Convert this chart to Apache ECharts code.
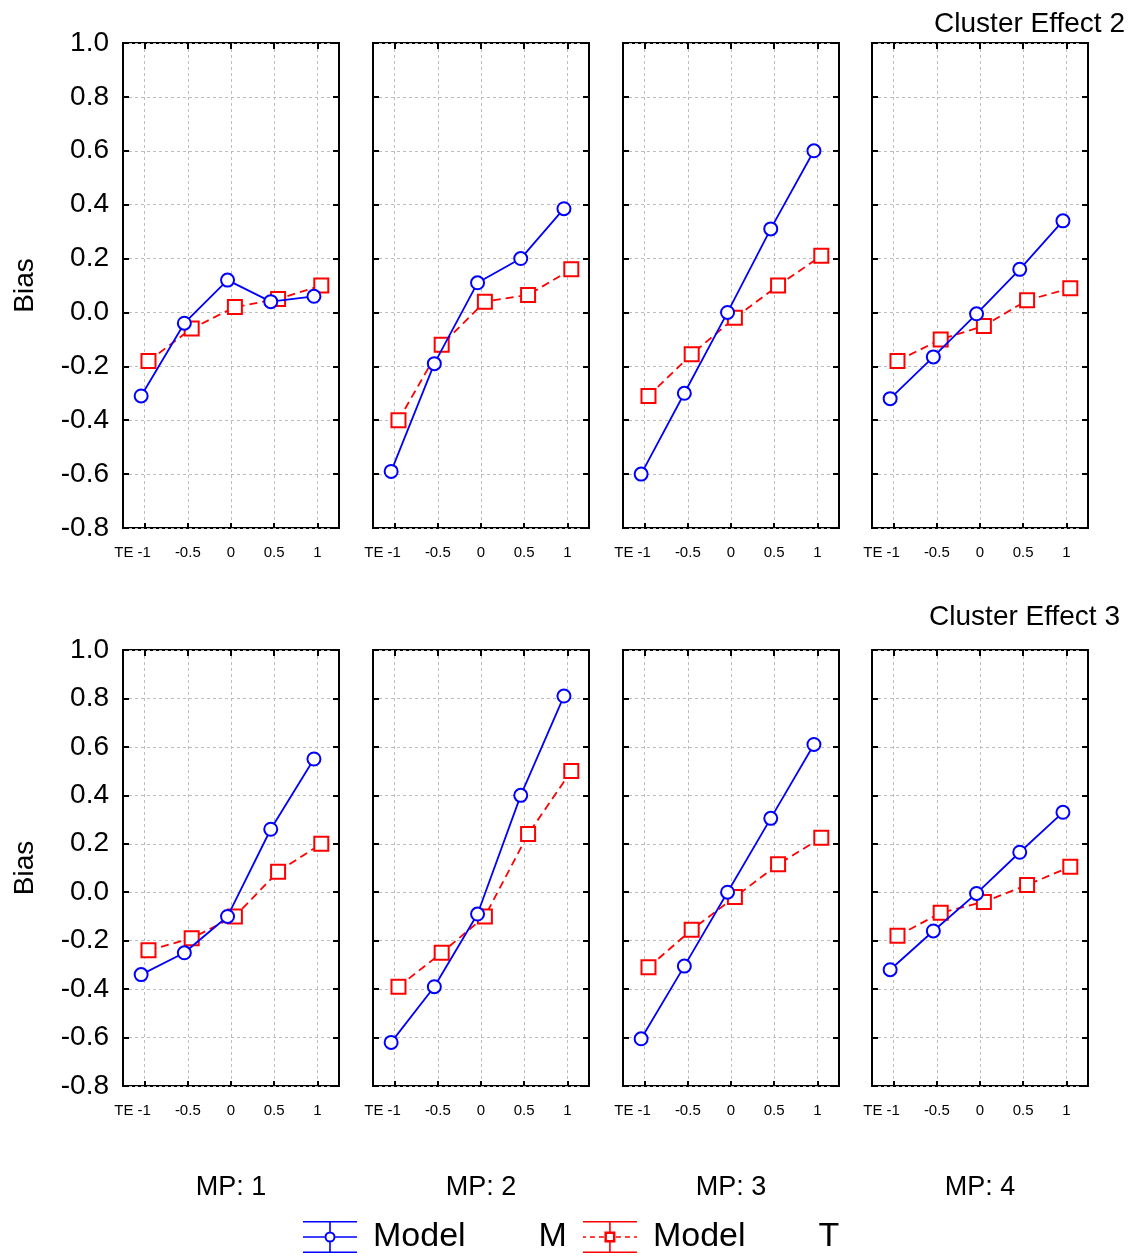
<!DOCTYPE html>
<html>

<head>
    <meta charset="utf-8">
    <title></title>
    <style>
        body { margin: 0; background: #fff; }
    </style>
</head>

<body>
    <div id="main" style="width: 1139px;height:1256px;"></div>
    <script src="https://cdn.jsdelivr.net/npm/echarts@6/dist/echarts.min.js" charset="utf-8"></script>
    <script>
    // x levels and labels
    var teLevels = [-1, -0.5, 0, 0.5, 1];
    var mpLabels = ['MP: 1', 'MP: 2', 'MP: 3', 'MP: 4'];
    var clusterTitles = ['Cluster Effect 2', 'Cluster Effect 3'];

    // Cluster Effect 2, one row per MP
    var ce2ModelM = [
        [-0.31, -0.04, 0.12, 0.04, 0.06],
        [-0.59, -0.19, 0.11, 0.20, 0.385],
        [-0.60, -0.30, 0.00, 0.31, 0.60],
        [-0.32, -0.165, -0.005, 0.16, 0.34]
    ];
    var ce2ModelT = [
        [-0.18, -0.06, 0.02, 0.05, 0.10],
        [-0.40, -0.12, 0.04, 0.065, 0.16],
        [-0.31, -0.155, -0.02, 0.10, 0.21],
        [-0.18, -0.10, -0.05, 0.045, 0.09]
    ];
    // Cluster Effect 3
    var ce3ModelM = [
        [-0.34, -0.25, -0.10, 0.26, 0.55],
        [-0.62, -0.39, -0.09, 0.40, 0.81],
        [-0.605, -0.305, 0.00, 0.305, 0.61],
        [-0.32, -0.16, -0.005, 0.165, 0.33]
    ];
    var ce3ModelT = [
        [-0.24, -0.19, -0.10, 0.085, 0.20],
        [-0.39, -0.25, -0.10, 0.24, 0.50],
        [-0.31, -0.155, -0.02, 0.115, 0.225],
        [-0.18, -0.085, -0.04, 0.03, 0.105]
    ];

    var FONT = 'Liberation Sans, Arial, sans-serif';
    var BLUE = '#0000ff';
    var RED = '#ff0000';
    var offM = -0.04, offT = 0.045;   // small horizontal jitter as in the original

    var rows = [
        { top: 43, height: 485, m: ce2ModelM, t: ce2ModelT },
        { top: 650, height: 436, m: ce3ModelM, t: ce3ModelT }
    ];
    var colLefts = [123, 373, 623, 872];
    var colWidth = 216;

    var grids = [], xAxes = [], yAxes = [], series = [], graphics = [];

    var tickStyle = { color: '#000', width: 2 };
    var gridLine = { color: '#bdbdbd', type: [3, 3], width: 1 };

    function yFmt(v) {
        var r = Math.round(v * 10) / 10;
        if (r === 0) r = 0;
        return r.toFixed(1);
    }

    rows.forEach(function(row, r) {
        colLefts.forEach(function(left, c) {
            var g = grids.length;
            grids.push({
                left: left, top: row.top, width: colWidth, height: row.height,
                show: true, borderColor: '#000', borderWidth: 2, backgroundColor: 'transparent'
            });
            xAxes.push({
                type: 'value', gridIndex: g, position: 'bottom', min: -1.25, max: 1.25,
                axisLine: { show: false, onZero: false },
                axisTick: { show: true, inside: true, length: 5, customValues: teLevels, lineStyle: tickStyle },
                splitLine: { show: true, lineStyle: gridLine },
                axisLabel: {
                    customValues: teLevels, margin: 17, color: '#000', fontSize: 15, fontFamily: FONT,
                    formatter: function(v) { return v === -1 ? '{te|TE -1}' : String(v); },
                    rich: { te: { fontSize: 15, fontFamily: FONT, color: '#000', padding: [0, 24, 0, 0] } }
                }
            });
            xAxes.push({
                type: 'value', gridIndex: g, position: 'top', min: -1.25, max: 1.25,
                axisLine: { show: false, onZero: false },
                axisTick: { show: true, inside: true, length: 6, customValues: teLevels, lineStyle: tickStyle },
                axisLabel: { show: false },
                splitLine: { show: false }
            });
            yAxes.push({
                type: 'value', gridIndex: g, position: 'left', min: -0.8, max: 1.0, interval: 0.2,
                name: c === 0 ? 'Bias' : '', nameLocation: 'middle', nameGap: 84,
                nameTextStyle: { fontSize: 28, fontFamily: FONT, color: '#000' },
                axisLine: { show: false, onZero: false },
                axisTick: { show: true, inside: true, length: 6, lineStyle: tickStyle },
                splitLine: { show: true, lineStyle: gridLine },
                axisLabel: { show: c === 0, margin: 14, color: '#000', fontSize: 28, fontFamily: FONT,
                    formatter: yFmt }
            });
            yAxes.push({
                type: 'value', gridIndex: g, position: 'right', min: -0.8, max: 1.0, interval: 0.2,
                axisLine: { show: false, onZero: false },
                axisTick: { show: true, inside: true, length: 6, lineStyle: tickStyle },
                splitLine: { show: false },
                axisLabel: { show: false }
            });

            series.push({
                name: 'Model M', type: 'line', xAxisIndex: 2 * g, yAxisIndex: 2 * g,
                data: teLevels.map(function(x, i) { return [x + offM, row.m[c][i]]; }),
                symbol: 'emptyCircle', symbolSize: 13,
                itemStyle: { color: BLUE, borderWidth: 1.2 },
                lineStyle: { color: BLUE, width: 1.8 },
                animation: false, z: 3
            });
            series.push({
                name: 'Model T', type: 'line', xAxisIndex: 2 * g, yAxisIndex: 2 * g,
                data: teLevels.map(function(x, i) { return [x + offT, row.t[c][i]]; }),
                symbol: 'emptyRect', symbolSize: 14,
                itemStyle: { color: RED, borderWidth: 1.2 },
                lineStyle: { color: RED, width: 1.8, type: [8, 5] },
                animation: false, z: 2
            });
        });
    });

    colLefts.forEach(function(left, c) {
        graphics.push({
            type: 'text', x: left + colWidth / 2, y: 1188,
            style: { text: mpLabels[c], fontSize: 27, fontFamily: FONT, fill: '#000',
                textAlign: 'center', textVerticalAlign: 'middle' }
        });
    });

    // legend icons: error-bar style marker, drawn as filled path shapes
    var iconM = 'path://M0 0h54v1.6h-54Z M0 30.4h54v1.6h-54Z M26.2 0h1.6v10.5h-1.6Z M26.2 21.5h1.6v10.5h-1.6Z ' +
        'M0 15.2h21.5v1.6h-21.5Z M32.5 15.2h21.5v1.6h-21.5Z ' +
        'M21.5 16A5.5 5.5 0 1 1 32.5 16A5.5 5.5 0 1 1 21.5 16Z M23.5 16A3.5 3.5 0 1 0 30.5 16A3.5 3.5 0 1 0 23.5 16Z';
    var iconT = 'path://M0 0h54v1.6h-54Z M0 30.4h54v1.6h-54Z M26.2 0h1.6v10.5h-1.6Z M26.2 21.5h1.6v10.5h-1.6Z ' +
        'M0 15.3h3v1.4h-3Z M7 15.3h5v1.4h-5Z M16 15.3h5v1.4h-5Z M33 15.3h5v1.4h-5Z M42 15.3h5v1.4h-5Z M51 15.3h3v1.4h-3Z ' +
        'M21.5 10.5h11v11h-11Z M24 13V19H30V13Z';

    var myChart = echarts.init(document.getElementById('main'));
    var option = {
        backgroundColor: '#fff',
        animation: false,
        title: [
            { text: clusterTitles[0], right: 14, top: 10, padding: 0,
              textStyle: { fontSize: 28, fontWeight: 'normal', fontFamily: FONT, color: '#000' } },
            { text: clusterTitles[1], right: 19, top: 603, padding: 0,
              textStyle: { fontSize: 28, fontWeight: 'normal', fontFamily: FONT, color: '#000' } }
        ],
        legend: {
            left: 303, top: 1220, itemWidth: 54, itemHeight: 32, itemGap: 16, padding: 0,
            selectedMode: false,
            data: [
                { name: 'Model M', icon: iconM, itemStyle: { color: BLUE, borderWidth: 0 } },
                { name: 'Model T', icon: iconT, itemStyle: { color: RED, borderWidth: 0 } }
            ],
            formatter: function(name) {
                return '{a|Model}{b|' + name.slice(-1) + '}';
            },
            textStyle: {
                fontFamily: FONT, color: '#000', fontSize: 34,
                rich: {
                    a: { fontSize: 34, fontFamily: FONT, color: '#000', padding: [0, 0, 0, 11] },
                    b: { fontSize: 34, fontFamily: FONT, color: '#000', padding: [0, 0, 0, 73] }
                }
            }
        },
        grid: grids,
        xAxis: xAxes,
        yAxis: yAxes,
        graphic: graphics,
        series: series
    };
    myChart.setOption(option);
    </script>
</body>

</html>
